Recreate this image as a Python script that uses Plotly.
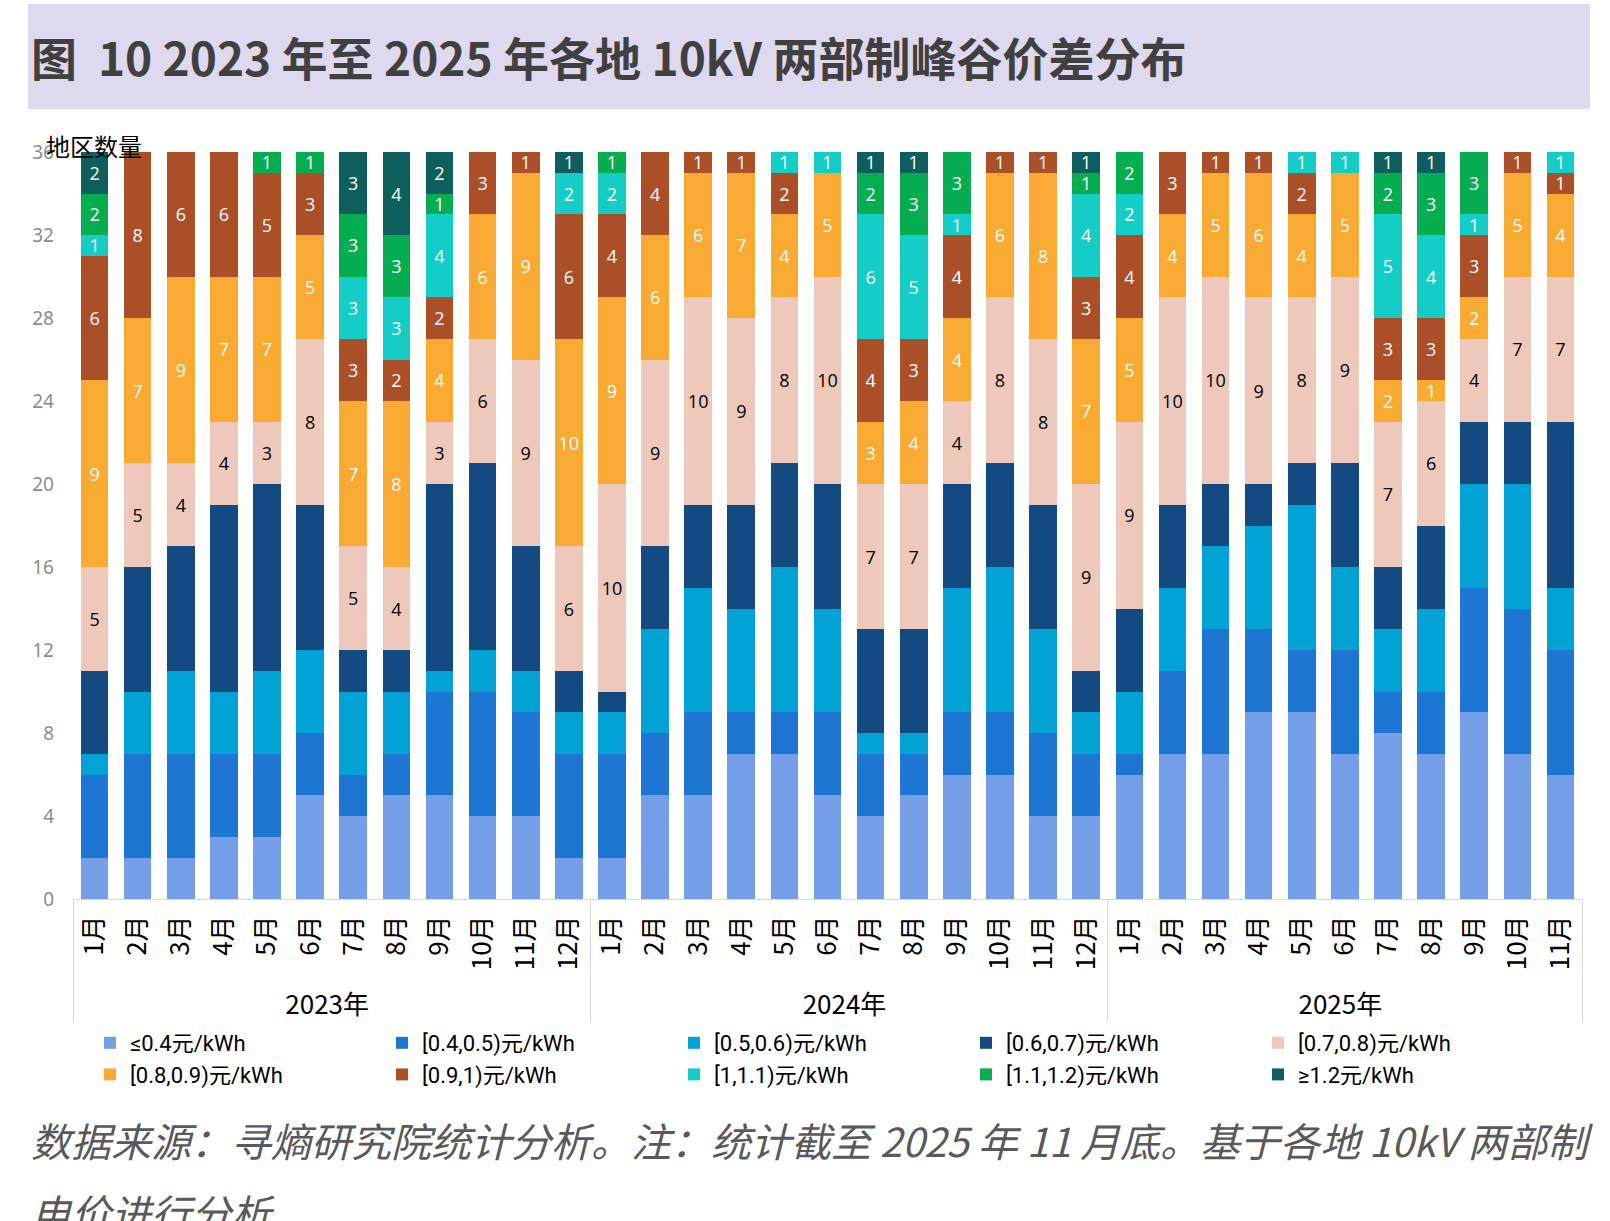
import plotly.graph_objects as go

# ---------------- data ----------------
years = ["2023年"] * 12 + ["2024年"] * 12 + ["2025年"] * 11
months = [f"{m}月" for m in range(1, 13)] * 2 + [f"{m}月" for m in range(1, 12)]

series_names = ["≤0.4元/kWh", "[0.4,0.5)元/kWh", "[0.5,0.6)元/kWh", "[0.6,0.7)元/kWh",
                "[0.7,0.8)元/kWh", "[0.8,0.9)元/kWh", "[0.9,1)元/kWh", "[1,1.1)元/kWh",
                "[1.1,1.2)元/kWh", "≥1.2元/kWh"]

v_le04 = [2, 2, 2, 3, 3, 5, 4, 5, 5, 4, 4, 2,
          2, 5, 5, 7, 7, 5, 4, 5, 6, 6, 4, 4,
          6, 7, 7, 9, 9, 7, 8, 7, 9, 7, 6]
v_04_05 = [4, 5, 5, 4, 4, 3, 2, 2, 5, 6, 5, 5,
           5, 3, 4, 2, 2, 4, 3, 2, 3, 3, 4, 3,
           1, 4, 6, 4, 3, 5, 2, 3, 6, 7, 6]
v_05_06 = [1, 3, 4, 3, 4, 4, 4, 3, 1, 2, 2, 2,
           2, 5, 6, 5, 7, 5, 1, 1, 6, 7, 5, 2,
           3, 4, 4, 5, 7, 4, 3, 4, 5, 6, 3]
v_06_07 = [4, 6, 6, 9, 9, 7, 2, 2, 9, 9, 6, 2,
           1, 4, 4, 5, 5, 6, 5, 5, 5, 5, 6, 2,
           4, 4, 3, 2, 2, 5, 3, 4, 3, 3, 8]
v_07_08 = [5, 5, 4, 4, 3, 8, 5, 4, 3, 6, 9, 6,
           10, 9, 10, 9, 8, 10, 7, 7, 4, 8, 8, 9,
           9, 10, 10, 9, 8, 9, 7, 6, 4, 7, 7]
v_08_09 = [9, 7, 9, 7, 7, 5, 7, 8, 4, 6, 9, 10,
           9, 6, 6, 7, 4, 5, 3, 4, 4, 6, 8, 7,
           5, 4, 5, 6, 4, 5, 2, 1, 2, 5, 4]
v_09_10 = [6, 8, 6, 6, 5, 3, 3, 2, 2, 3, 1, 6,
           4, 4, 1, 1, 2, 0, 4, 3, 4, 1, 1, 3,
           4, 3, 1, 1, 2, 0, 3, 3, 3, 1, 1]
v_10_11 = [1, 0, 0, 0, 0, 0, 3, 3, 4, 0, 0, 2,
           2, 0, 0, 0, 1, 1, 6, 5, 1, 0, 0, 4,
           2, 0, 0, 0, 1, 1, 5, 4, 1, 0, 1]
v_11_12 = [2, 0, 0, 0, 1, 1, 3, 3, 1, 0, 0, 0,
           1, 0, 0, 0, 0, 0, 2, 3, 3, 0, 0, 1,
           2, 0, 0, 0, 0, 0, 2, 3, 3, 0, 0]
v_ge12 = [2, 0, 0, 0, 0, 0, 3, 4, 2, 0, 0, 1,
          0, 0, 0, 0, 0, 0, 1, 1, 0, 0, 0, 1,
          0, 0, 0, 0, 0, 0, 1, 1, 0, 0, 0]

y_ticks = [0, 4, 8, 12, 16, 20, 24, 28, 32, 36]

# ---------------- styles ----------------
series_values = [v_le04, v_04_05, v_05_06, v_06_07, v_07_08,
                 v_08_09, v_09_10, v_10_11, v_11_12, v_ge12]
colors = ["#749EE8", "#1E76D3", "#02A3D4", "#134A82", "#EEC9BB",
          "#F8AA32", "#AA4F28", "#14CDC7", "#04AD50", "#0E5E5E"]
show_label = [False, False, False, False, True, True, True, True, True, True]
label_color = ["white", "white", "white", "white", "black",
               "white", "white", "white", "white", "white"]

W, H = 1610, 1221
ML, MR, MT, MB = 73, 28, 152, 322
PW = W - ML - MR
PH = H - MT - MB


def px_x(x):
    return (x - ML) / PW


def px_y(y):
    return (H - MB - y) / PH


fig = go.Figure()
for name, vals, col, lab, lc in zip(series_names, series_values, colors, show_label, label_color):
    yvals = [v if v > 0 else None for v in vals]
    txt = [str(v) if (lab and v > 0) else "" for v in vals]
    fig.add_trace(go.Bar(
        x=[years, months], y=yvals, name=name,
        marker=dict(color=col, line=dict(width=0)),
        text=txt, textposition="inside", insidetextanchor="middle",
        textangle=0, constraintext="none",
        textfont=dict(color=lc, size=18, family="Open Sans"),
        hoverinfo="skip",
    ))

fig.update_layout(
    width=W, height=H,
    margin=dict(l=ML, r=MR, t=MT, b=MB, pad=0),
    barmode="stack", bargap=0.36,
    paper_bgcolor="white", plot_bgcolor="white",
    font=dict(family="Noto Sans CJK SC", color="black"),
    showlegend=True,
    legend=dict(orientation="h", traceorder="normal",
                x=px_x(90), xanchor="left", y=px_y(1022), yanchor="top",
                entrywidth=247, entrywidthmode="pixels",
                font=dict(size=22, family="Roboto, Noto Sans CJK SC", color="black"),
                itemwidth=30, bgcolor="rgba(0,0,0,0)"),
    xaxis=dict(type="multicategory", tickangle=-90,
               tickfont=dict(size=26, family="Noto Sans CJK SC", color="black"),
               showline=True, linecolor="#D9D9D9", linewidth=1,
               showgrid=False, ticks="", showdividers=True, ticklabelstandoff=5,
               dividercolor="#D9D9D9", dividerwidth=1),
    yaxis=dict(range=[0, 36], tickvals=y_ticks, showgrid=False, zeroline=False,
               showline=False, ticks="", ticklabelstandoff=18,
               tickfont=dict(size=19, family="Noto Sans", color="#8C8C8C")),
)

# title band
fig.add_shape(type="rect", xref="paper", yref="paper",
              x0=px_x(28), x1=px_x(1590), y0=px_y(109), y1=px_y(4),
              fillcolor="#DED9EF", line=dict(width=0), layer="below")
fig.add_annotation(text="<b>图  10 2023 年至 2025 年各地 10kV 两部制峰谷价差分布</b>",
                   xref="paper", yref="paper", x=px_x(29), y=px_y(56),
                   xanchor="left", yanchor="middle", showarrow=False,
                   font=dict(size=46, family="Noto Sans CJK SC", color="#404040"))
fig.add_annotation(text="地区数量", xref="paper", yref="paper",
                   x=px_x(44), y=px_y(145), xanchor="left", yanchor="middle",
                   showarrow=False, bgcolor="rgba(255,255,255,0)",
                   font=dict(size=24, family="Noto Sans CJK SC", color="black"))
fig.add_annotation(text="<i>数据来源：寻熵研究院统计分析。注：统计截至 2025 年 11 月底。基于各地 10kV 两部制</i>",
                   xref="paper", yref="paper", x=px_x(29), y=px_y(1140),
                   xanchor="left", yanchor="middle", showarrow=False,
                   font=dict(size=40, family="Noto Sans CJK SC", color="#595959"))
fig.add_annotation(text="<i>电价进行分析</i>",
                   xref="paper", yref="paper", x=px_x(29), y=px_y(1212),
                   xanchor="left", yanchor="middle", showarrow=False,
                   font=dict(size=40, family="Noto Sans CJK SC", color="#595959"))

fig.write_html("out.html")
